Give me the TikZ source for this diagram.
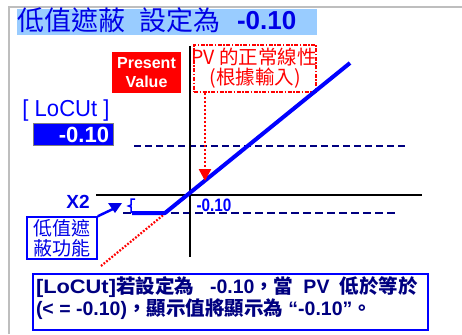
\documentclass[tikz,border=0pt]{standalone}
\usepackage{fontspec}
\usepackage{graphicx}
\setmainfont{Liberation Sans}
\newfontfamily\cjk{Noto Sans CJK TC}
\usetikzlibrary{arrows.meta}
\definecolor{band}{HTML}{99CCFF}
\definecolor{tblue}{HTML}{0000E6}
\definecolor{lblue}{HTML}{0000FF}
\definecolor{navy}{HTML}{000080}
\definecolor{pvred}{HTML}{FF0000}
\definecolor{framegray}{HTML}{BEBEBE}
\newcommand{\zhb}[1]{{\cjk\bfseries #1}}
\newcommand{\fsz}[1]{\fontsize{#1}{#1}\selectfont}
\begin{document}
\begin{tikzpicture}[x=1pt,y=-1pt,
  txt/.style={inner sep=0pt, outer sep=0pt},
  axisline/.style={black, line width=1.5pt},
  thinlevel/.style={navy, line width=1.2pt, dash pattern=on 7pt off 4pt},
  thicklevel/.style={navy, line width=2.5pt, dash pattern=on 8pt off 4pt},
  curve/.style={lblue, line width=4pt, line join=round},
  reddots/.style={pvred, line width=2.2pt, dash pattern=on 1.8pt off 1.6pt},
  boxblue/.style={draw=lblue, line width=1.5pt, inner sep=0pt}]
\useasboundingbox (0,0) rectangle (462,334);
% frame
\draw[framegray, line width=2pt] (9,334) -- (9,7) -- (462,7);
% title
\fill[band] (17,9) rectangle (317,35);
\node[txt, anchor=base west, font=\cjk\fsz{27}, text=tblue] (t1) at (17,31) {低值遮蔽};
\node[txt, anchor=base west, font=\cjk\fsz{27}, text=tblue] (t2) at (139,31) {設定為};
\node[txt, anchor=base west, font=\bfseries\fsz{26}, text=tblue] (t3) at (237,30) {-0.10};
% present value
\node[fill=pvred, minimum width=69, minimum height=41, inner sep=0pt, align=center,
  text=white, font=\bfseries\fontsize{16}{19}\selectfont] (pres) at (146.5,72.5) {Present\\Value};
% PV box
\node[draw=pvred, line width=1.5pt, dash pattern=on 4pt off 1.5pt on 1.5pt off 1.5pt,
  minimum width=122, minimum height=47, inner sep=0pt] (pv) at (255,68.5) {};
\node[txt, font=\cjk\fsz{19.5}, text=pvred] (pv1) at (254,57) {PV 的正常線性};
\node[txt, font=\cjk\fsz{19.5}, text=pvred] (pv2) at (255,78) {(根據輸入)};
% axes
\coordinate (ytop) at (190,46);
\coordinate (ybot) at (190,257);
\coordinate (xl) at (96,195);
\coordinate (xr) at (422,195);
% levels
\draw[thinlevel] (134,146) -- (406,146);
\draw[thicklevel] (123,213) -- (397,213);
% red dotted extension
\draw[reddots] (101,266) -- (200,185);
\draw[axisline] (ytop) -- (ybot);
\draw[axisline] (xl) -- (xr);
% blue curve
\draw[curve] (132,213) -- (165,213) -- (350,63);
\draw[lblue, line width=1.5pt] (135,199) -- (131,199) -- (131,205) -- (128.5,206) -- (131,207) -- (131,213);
% red dotted arrow
\coordinate (pvtip) at (205,181);
\draw[pvred, line width=2.5pt, dash pattern=on 2pt off 2pt, -{Triangle[width=12pt,length=12pt]}] (pv.south -| pvtip) -- (pvtip);
% labels
\node[txt, font=\bfseries\fsz{19}, text=tblue] (x2) at (78,201.5) {X2};
\node[txt, font=\bfseries\fsz{18}, text=lblue] (m010) at (214,205) {\scalebox{0.85}[1]{-0.10}};
\node[txt, font=\fsz{21}, text=lblue] (lcut) at (66,111) {\scalebox{1.05}[1.1]{[ LoCUt ]}};
\node[fill=lblue, draw=gray, line width=1pt, minimum width=80, minimum height=22, inner sep=0pt] (disp) at (73,134) {};
\node[txt, anchor=east, font=\bfseries\fsz{22}, text=white] (dispv) at (109,134.5) {\scalebox{1}[1]{-0.10}};
% low-cut box and marker
\node[boxblue, minimum width=70, minimum height=42, align=center,
  font=\cjk\fontsize{19}{20}\selectfont, text=tblue] (lowbox) at (62,238) {低值遮\\蔽功能};
\coordinate (tri) at (113,209);
\draw[lblue, line width=2.5pt] (lowbox.north east) -- (tri);
\fill[tblue] (108,203) -- (122,203) -- (115,213) -- cycle;
% bottom note
\node[boxblue, minimum width=395, minimum height=56] (note) at (230.5,302) {};
\node[txt, anchor=base west, text=navy, font=\fsz{19.5}] (n1) at (36,293)
  {\scalebox{1.12}[1]{\textbf{[LoCUt]}}\zhb{若設定為}\hspace{16pt}\textbf{-0.10}\zhb{，當}\hspace{10pt}\textbf{PV}\hspace{10pt}\zhb{低於等於}};
\node[txt, anchor=base west, text=navy, font=\fsz{19.5}] (n2) at (36,315)
  {\textbf{(< = -0.10)}\zhb{，顯示值將顯示為} \textbf{“-0.10”}\zhb{。}};
\end{tikzpicture}
\end{document}
